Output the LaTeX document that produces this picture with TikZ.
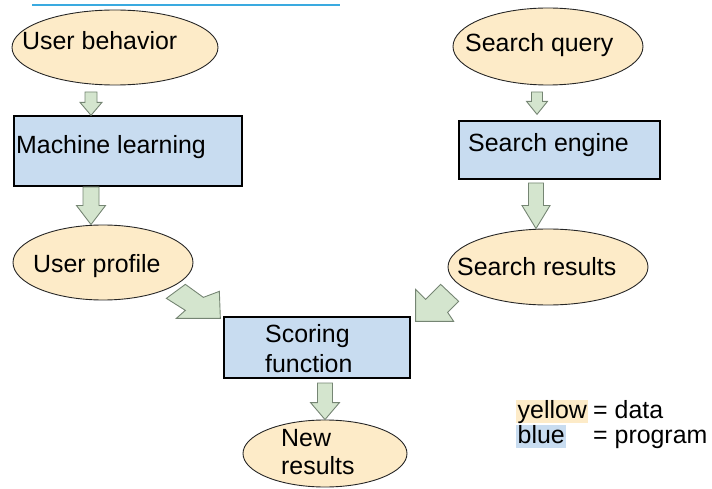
\documentclass[tikz,border=0pt]{standalone}
\usepackage{fontspec}
\setmainfont{Liberation Sans}
\usetikzlibrary{calc,shapes.geometric}

\definecolor{datafill}{HTML}{FDEBC8}
\definecolor{progfill}{HTML}{C8DCF0}
\definecolor{arrowfill}{HTML}{D4E5CE}
\definecolor{arrowedge}{HTML}{758573}
\definecolor{rulecol}{HTML}{3AAAE0}

\tikzset{
  data/.style={ellipse, draw=black!85, line width=0.9pt, fill=datafill, inner sep=0pt},
  prog/.style={rectangle, draw=black, line width=1.3pt, fill=progfill, inner sep=0pt},
  txt/.style={inner sep=0pt, anchor=base west, font=\fontsize{25}{30}\selectfont, text=black},
  blockarrow/.style={draw=arrowedge, line width=0.9pt, fill=arrowfill, line join=miter},
  keybox/.style={txt, inner xsep=1.5pt, text height=18bp, text depth=5bp}
}

% vertical block arrow: tail, tip, shaft half width, head half width, head length
\newcommand\vblock[5]{%
  \draw[blockarrow] let \p1=(#1), \p2=(#2) in
    (\x1-#3,\y1) -- (\x1-#3,\y2+#5) -- (\x1-#4,\y2+#5) -- (\x1,\y2)
    -- (\x1+#4,\y2+#5) -- (\x1+#3,\y2+#5) -- (\x1+#3,\y1) -- cycle;}

\begin{document}
\begin{tikzpicture}[x=1bp, y=-1bp]
\useasboundingbox (0,0) rectangle (712,489);

% title rule
\coordinate (r1) at (32,5);
\coordinate (r2) at (340,5);
\draw[rulecol, line width=2.5pt] (r1) -- (r2);

% data items
\node[data, minimum width=206bp, minimum height=75bp] (ub) at (115,47.5) {};
\node[data, minimum width=190bp, minimum height=77bp] (sq) at (548,46.5) {};
\node[data, minimum width=180bp, minimum height=75bp] (up) at (103,262.5) {};
\node[data, minimum width=200bp, minimum height=76bp] (sr) at (548,267) {};
\node[data, minimum width=164bp, minimum height=67bp] (nr) at (325,453.5) {};

% programs
\node[prog, minimum width=228bp, minimum height=70bp] (ml) at (128,151) {};
\node[prog, minimum width=201bp, minimum height=58bp] (se) at (559.5,150) {};
\node[prog, minimum width=186bp, minimum height=61bp] (sf) at (317,347.5) {};

% labels
\node[txt] (ubt) at (22,50) {User behavior};
\node[txt] (sqt) at (465,52) {Search query};
\node[txt] (mlt) at (16,154) {Machine learning};
\node[txt] (set) at (468,152) {Search engine};
\node[txt] (upt) at (33,273) {User profile};
\node[txt] (srt) at (457,276) {Search results};
\node[txt] (sft1) at (265,342) {Scoring};
\node[txt] (sft2) at (265,372) {function};
\node[txt] (nrt1) at (281,446) {New};
\node[txt] (nrt2) at (281,474) {results};

% flow arrows
\coordinate (a1) at (91,92);
\coordinate (a2) at (537,92);
\coordinate (a3) at (91,187);
\coordinate (a4) at (536,183);
\coordinate (a5) at (325,383);
\vblock{a1}{a1 |- ml.north}{6bp}{11bp}{13bp}
\vblock{a2}{$(a2 |- se.north)+(0,-6)$}{5.5bp}{10.5bp}{13bp}
\vblock{a3}{a3 |- up.north}{8bp}{14.5bp}{19bp}
\vblock{a4}{a4 |- sr.north}{7.5bp}{14bp}{23bp}
\vblock{a5}{a5 |- nr.north}{7.5bp}{14.5bp}{17bp}

% diagonal arrows into the scoring function
\coordinate (lt) at ($(sf.north west)+(-3,2)$);
\coordinate (rt) at ($(sf.north east)+(5,5)$);
\draw[blockarrow] (lt) -- ++(-1,-27) -- ($(lt)+(-17,-21)$) -- ($(lt)+(-35,-34)$)
  -- ($(lt)+(-54,-20)$) -- ($(lt)+(-35,-8)$) -- ($(lt)+(-44,0)$) -- cycle;
\draw[blockarrow] (rt) -- ++(0,-32) -- ($(rt)+(10,-22)$) -- ($(rt)+(25,-37)$)
  -- ($(rt)+(43,-20)$) -- ($(rt)+(32,-9)$) -- ($(rt)+(38,0)$) -- cycle;

% legend
\node[keybox, fill=datafill] (ky) at (516,418) {yellow};
\node[keybox, fill=progfill] (kb) at (516,443) {blue\hspace{3bp}};
\node[txt] (kyt) at (593,418) {= data};
\node[txt] (kbt) at (593,443) {= program};
\end{tikzpicture}
\end{document}
